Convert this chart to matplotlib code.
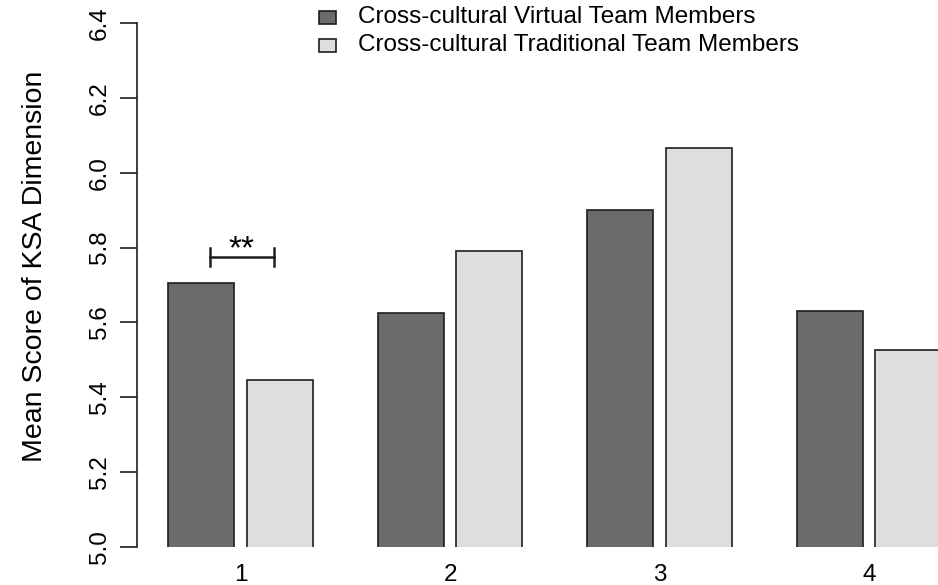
import numpy as np
import matplotlib
matplotlib.use("Agg")
import matplotlib.pyplot as plt
from matplotlib.patches import Rectangle

plt.rcParams['font.family'] = ['Liberation Sans', 'DejaVu Sans']

# data
groups = ['1', '2', '3', '4']
virtual = [5.705, 5.625, 5.900, 5.630]
traditional = [5.446, 5.791, 6.066, 5.526]
series_names = ['Cross-cultural Virtual Team Members',
                'Cross-cultural Traditional Team Members']
dark = '#6b6b6b'
light = '#dedede'
edge = '#1e1e1e'

W, H = 938, 585
fig = plt.figure(figsize=(W / 100, H / 100), dpi=100)
# axes box in pixels: left spine at 137, y 5.0 at 547, 6.4 at 23
ax = fig.add_axes([137 / W, (H - 547) / H, 1 - 137 / W, (547 - 23) / H])

x = np.arange(len(groups))
bw = 0.315   # bar width (group spacing = 1)
gap = 0.06
ax.bar(x - (bw + gap) / 2, virtual, bw, color=dark, edgecolor=edge, linewidth=1.2)
ax.bar(x + (bw + gap) / 2, traditional, bw, color=light, edgecolor=edge, linewidth=1.2)

ax.set_ylim(5.0, 6.4)
ax.set_xlim(-0.494, 3.329)
yt = np.arange(5.0, 6.41, 0.2)
ax.set_yticks(yt)
ax.set_yticklabels(['%.1f' % v for v in yt])
ax.set_xticks(x)
ax.set_xticklabels(groups)

for s in ['top', 'right', 'bottom']:
    ax.spines[s].set_visible(False)
ax.spines['left'].set_linewidth(1.2)
ax.spines['left'].set_color(edge)
ax.spines['left'].set_bounds(5.0, 6.4)

ax.tick_params(axis='x', length=0, pad=12, labelsize=17.5)
ax.tick_params(axis='y', length=12, width=1.2, color=edge, pad=7, labelsize=17.5, labelrotation=90)
for lab in ax.get_yticklabels():
    lab.set_va('center')

fig.text(35 / W, 1 - 266 / H, 'Mean Score of KSA Dimension', rotation=90,
         ha='center', va='center', fontsize=20.5)

# significance bracket over group 1
b0, b1, by, cap = -0.146, 0.160, 5.775, 0.025
ax.plot([b0, b1], [by, by], color=edge, lw=1.8, clip_on=False)
ax.plot([b0, b0], [by - cap, by + cap], color=edge, lw=1.8, clip_on=False)
ax.plot([b1, b1], [by - cap, by + cap], color=edge, lw=1.8, clip_on=False)
ax.text((b0 + b1) / 2, by + 0.018, '**', ha='center', va='center', fontsize=24)

# legend drawn at the top of the figure
for i, (name, col) in enumerate(zip(series_names, [dark, light])):
    yc = 17 + 28 * i
    fig.patches.append(Rectangle((319 / W, 1 - (yc + 7) / H), 17 / W, 13 / H,
                                 transform=fig.transFigure, facecolor=col,
                                 edgecolor=edge, linewidth=1.2))
    fig.text(358 / W, 1 - yc / H, name, ha='left', va='center', fontsize=17.5)

fig.savefig('out.png', dpi=100)
